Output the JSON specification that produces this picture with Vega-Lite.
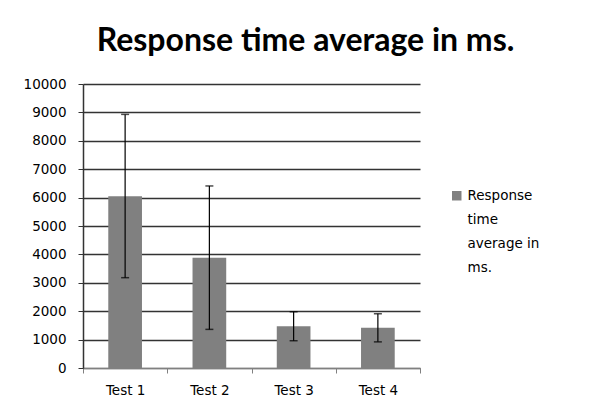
{
  "$schema": "https://vega.github.io/schema/vega-lite/v6.json",
  "width": 337,
  "height": 284,
  "autosize": {"type": "none"},
  "padding": {"left": 83, "top": 84, "right": 170, "bottom": 45},
  "background": "white",
  "title": {
    "text": "Response time average in ms.",
    "font": "Lato",
    "fontSize": 32,
    "fontWeight": "bold",
    "color": "black",
    "anchor": "middle",
    "dx": 54,
    "offset": 19
  },
  "data": {
    "values": [
      {"test": "Test 1", "avg": 6050, "lo": 3180, "hi": 8930, "series": "Response time average in ms."},
      {"test": "Test 2", "avg": 3885, "lo": 1360, "hi": 6410, "series": "Response time average in ms."},
      {"test": "Test 3", "avg": 1470, "lo": 960, "hi": 1980, "series": "Response time average in ms."},
      {"test": "Test 4", "avg": 1415, "lo": 920, "hi": 1910, "series": "Response time average in ms."}
    ]
  },
  "encoding": {
    "x": {
      "field": "test",
      "type": "nominal",
      "scale": {"paddingInner": 0, "paddingOuter": 0},
      "axis": {
        "title": null,
        "labelAngle": 0,
        "labelFont": "DejaVu Sans",
        "labelFontSize": 13.5,
        "labelColor": "black",
        "labelPadding": 10,
        "tickBand": "extent",
        "tickColor": "#808080",
        "tickSize": 5,
        "domainColor": "#808080",
        "grid": false
      }
    }
  },
  "layer": [
    {
      "mark": {"type": "bar", "width": {"band": 0.4}},
      "encoding": {
        "y": {
          "field": "avg",
          "type": "quantitative",
          "scale": {"domain": [0, 10000], "nice": false},
          "axis": {"title": null}
        },
        "color": {
          "field": "series",
          "type": "nominal",
          "scale": {"range": ["#808080"]},
          "legend": {
            "title": null,
            "orient": "none",
            "legendX": 367,
            "legendY": 105,
            "symbolType": "square",
            "symbolSize": 90,
            "symbolStrokeWidth": 0,
            "labelFont": "DejaVu Sans",
            "labelFontSize": 13.5,
            "labelColor": "black",
            "labelLimit": 200,
            "labelExpr": "['Response', 'time', 'average in', 'ms.']",
            "labelBaseline": "top",
            "labelOffset": 4,
            "symbolOffset": 0,
            "encode": {"labels": {"update": {"lineHeight": {"value": 24}, "y": {"value": 0}}}}
          }
        }
      }
    },
    {
      "mark": {"type": "rule", "color": "black", "strokeWidth": 1.2},
      "encoding": {
        "y": {"field": "lo", "type": "quantitative", "axis": {"title": null}},
        "y2": {"field": "hi"}
      }
    },
    {
      "mark": {"type": "tick", "color": "black", "size": 8, "thickness": 1.5, "orient": "horizontal"},
      "encoding": {"y": {"field": "lo", "type": "quantitative", "axis": {"title": null}}}
    },
    {
      "mark": {"type": "tick", "color": "black", "size": 8, "thickness": 1.5, "orient": "horizontal"},
      "encoding": {"y": {"field": "hi", "type": "quantitative", "axis": {"title": null}}}
    }
  ],
  "config": {
    "view": {"stroke": null},
    "axisY": {
      "tickCount": 10,
      "labelOverlap": false,
      "format": "d",
      "labelFont": "DejaVu Sans",
      "labelFontSize": 13.5,
      "labelColor": "black",
      "labelPadding": 12,
      "tickColor": "#333333",
      "tickSize": 5,
      "domainColor": "#333333",
      "domainWidth": 1.5,
      "gridColor": "#333333",
      "gridWidth": 1.5,
      "gridOpacity": 1
    }
  }
}
